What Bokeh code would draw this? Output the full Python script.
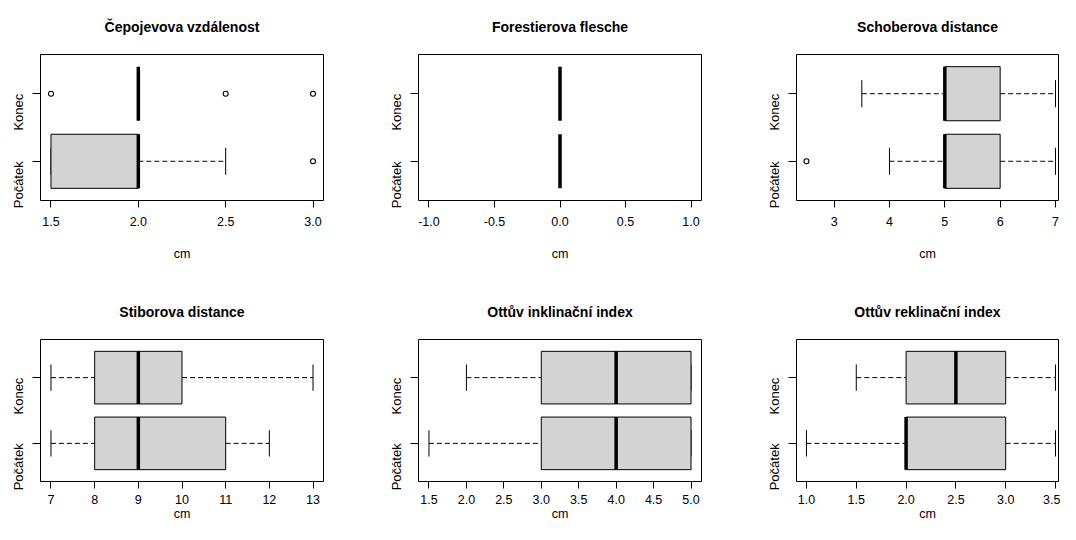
import math
from bokeh.plotting import figure
from bokeh.layouts import column, row
from bokeh.models import Range1d, FixedTicker
from bokeh.embed import file_html
from bokeh.resources import INLINE

titles = ["Čepojevova vzdálenost", "Forestierova flesche", "Schoberova distance",
          "Stiborova distance", "Ottův inklinační index", "Ottův reklinační index"]
groups = ["Počátek", "Konec"]
x_label = "cm"

# [lower whisker, Q1, median, Q3, upper whisker]
pocatek_stats = [
    [1.5, 1.5, 2.0, 2.0, 2.5],
    [0.0, 0.0, 0.0, 0.0, 0.0],
    [4.0, 5.0, 5.0, 6.0, 7.0],
    [7.0, 8.0, 9.0, 11.0, 12.0],
    [1.5, 3.0, 4.0, 5.0, 5.0],
    [1.0, 2.0, 2.0, 3.0, 3.5],
]
konec_stats = [
    [2.0, 2.0, 2.0, 2.0, 2.0],
    [0.0, 0.0, 0.0, 0.0, 0.0],
    [3.5, 5.0, 5.0, 6.0, 7.0],
    [7.0, 8.0, 9.0, 10.0, 13.0],
    [2.0, 3.0, 4.0, 5.0, 5.0],
    [1.5, 2.0, 2.5, 3.0, 3.5],
]
pocatek_outliers = [[3.0], [], [2.5], [], [], []]
konec_outliers = [[1.5, 2.5, 3.0], [], [], [], [], []]

x_ticks = [
    [1.5, 2.0, 2.5, 3.0],
    [-1.0, -0.5, 0.0, 0.5, 1.0],
    [3, 4, 5, 6, 7],
    [7, 8, 9, 10, 11, 12, 13],
    [1.5, 2.0, 2.5, 3.0, 3.5, 4.0, 4.5, 5.0],
    [1.0, 1.5, 2.0, 2.5, 3.0, 3.5],
]
x_tick_labels = [
    ["1.5", "2.0", "2.5", "3.0"],
    ["-1.0", "-0.5", "0.0", "0.5", "1.0"],
    ["3", "4", "5", "6", "7"],
    ["7", "8", "9", "10", "11", "12", "13"],
    ["1.5", "2.0", "2.5", "3.0", "3.5", "4.0", "4.5", "5.0"],
    ["1.0", "1.5", "2.0", "2.5", "3.0", "3.5"],
]

FONT = "Liberation Sans"
BOX_FILL = "#D3D3D3"


def make_panel(i, width, height, left, right, top, bottom, right_ext,
               tick_standoff, label_standoff, title_offset=0):
    stats = [pocatek_stats[i], konec_stats[i]]
    outs = [pocatek_outliers[i], konec_outliers[i]]
    vals = [v for s in stats for v in s] + [v for o in outs for v in o]
    lo, hi = min(vals), max(vals)
    if hi == lo:
        lo, hi = lo - 1, hi + 1
    span = hi - lo
    p = figure(width=width, height=height, output_backend="svg", toolbar_location=None,
               x_range=Range1d(lo - 0.04 * span, hi + right_ext * span),
               y_range=Range1d(0.42, 2.58),
               min_border_left=left, min_border_right=right,
               min_border_top=top, min_border_bottom=bottom,
               title=titles[i])
    p.title.text_font = FONT
    p.title.text_font_size = "14px"
    p.title.text_font_style = "bold"
    p.title.text_color = "black"
    p.title.align = "center"
    p.title.vertical_align = "top"
    p.title.standoff = 36
    p.title.offset = title_offset
    p.outline_line_color = "black"
    p.outline_line_width = 1
    p.outline_line_alpha = 1
    p.xgrid.visible = False
    p.ygrid.visible = False
    p.background_fill_color = "white"
    p.border_fill_color = "white"

    xa = p.xaxis[0]
    xa.ticker = FixedTicker(ticks=x_ticks[i])
    xa.major_label_overrides = {t: l for t, l in zip(x_ticks[i], x_tick_labels[i])}
    xa.minor_tick_line_color = None
    xa.major_tick_in = 0
    xa.major_tick_out = 7
    xa.major_tick_line_color = "black"
    xa.axis_line_color = None
    xa.major_label_standoff = tick_standoff
    xa.major_label_text_font = FONT
    xa.major_label_text_font_size = "12.5px"
    xa.major_label_text_color = "black"
    xa.axis_label = x_label
    xa.axis_label_text_font = FONT
    xa.axis_label_text_font_size = "12.5px"
    xa.axis_label_text_font_style = "normal"
    xa.axis_label_text_color = "black"
    xa.axis_label_standoff = label_standoff

    ya = p.yaxis[0]
    ya.ticker = FixedTicker(ticks=[1, 2])
    ya.major_label_overrides = {1: groups[0], 2: groups[1]}
    ya.major_label_orientation = math.pi / 2
    ya.minor_tick_line_color = None
    ya.major_tick_in = 0
    ya.major_tick_out = 8
    ya.major_tick_line_color = "black"
    ya.axis_line_color = None
    ya.major_label_standoff = 14
    ya.major_label_text_font = FONT
    ya.major_label_text_font_size = "13px"
    ya.major_label_text_color = "black"

    for g, (s, o) in enumerate(zip(stats, outs)):
        pos = g + 1
        wlo, q1, med, q3, whi = s
        # whiskers (dashed)
        p.segment(x0=[q3, wlo], y0=[pos, pos], x1=[whi, q1], y1=[pos, pos],
                  line_color="black", line_width=1, line_dash="5 3")
        # staples
        p.segment(x0=[wlo, whi], y0=[pos - 0.2, pos - 0.2], x1=[wlo, whi], y1=[pos + 0.2, pos + 0.2],
                  line_color="black", line_width=1)
        # box
        if q3 > q1:
            p.quad(left=[q1], right=[q3], bottom=[pos - 0.4], top=[pos + 0.4],
                   fill_color=BOX_FILL, line_color="black", line_width=1)
        # median
        p.segment(x0=[med], y0=[pos - 0.4], x1=[med], y1=[pos + 0.4],
                  line_color="black", line_width=3.5, line_cap="butt")
        if o:
            p.scatter(x=o, y=[pos] * len(o), marker="circle", size=5,
                      fill_color=None, line_color="black", line_width=1.1)
    return p


# top row: frames at y 53..200 ; bottom row: frames at y 338..481
top_h, bot_h = 285, 239
f1 = make_panel(0, 378, top_h, 38, 55, 53, 85, 0.04, 9, 18)
f2 = make_panel(1, 378, top_h, 38, 55, 53, 85, 0.04, 9, 18)
f3 = make_panel(2, 304, top_h, 38, 2, 53, 85, 0.012, 9, 18, title_offset=10)
f4 = make_panel(3, 378, bot_h, 38, 55, 53, 43, 0.04, 6, 0)
f5 = make_panel(4, 378, bot_h, 38, 55, 53, 43, 0.04, 6, 0)
f6 = make_panel(5, 304, bot_h, 38, 2, 53, 43, 0.012, 6, 0, title_offset=10)

layout = column(row(f1, f2, f3), row(f4, f5, f6))
open("out.html", "w").write(file_html(layout, INLINE))
